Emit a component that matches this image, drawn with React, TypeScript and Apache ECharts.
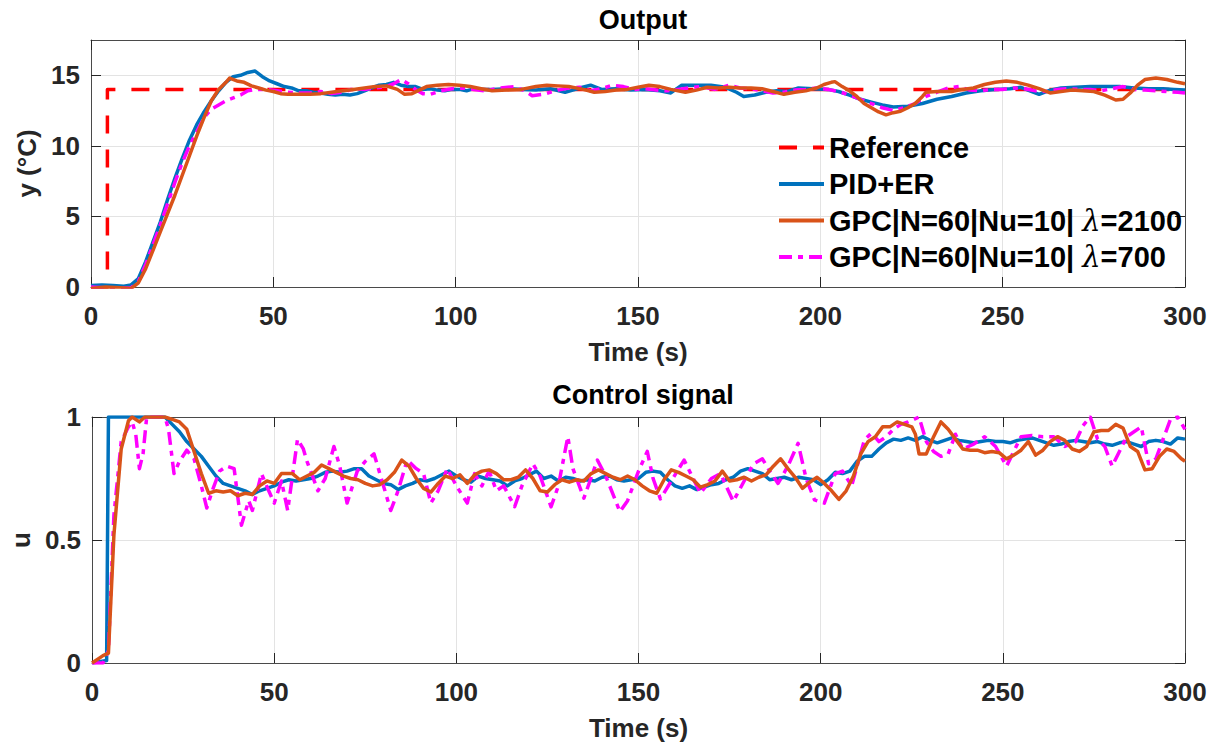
import React, { useEffect, useRef } from "react";
import * as echarts from "echarts";

// ---------- data (time [s], value) ----------
const NAMES = ["Reference", "PID+ER", "GPC|N=60|Nu=10| λ=2100", "GPC|N=60|Nu=10| λ=700"];
const COLORS = ["#FF0000", "#0072BD", "#D95319", "#FF00FF"];

const refOut = [[0, 0], [4.5, 0], [4.5, 14], [300, 14]];

const pidOut = [
  [0, 0.1], [3, 0.15], [6, 0.1], [9, 0.05], [11, 0.15], [13, 0.6], [15, 1.8], [17, 3.2], [19, 4.6], [21, 6.2],
  [23, 7.7], [25, 9.1], [27, 10.4], [29, 11.5], [31, 12.4], [33, 13.2], [35, 13.9], [37, 14.5], [39, 14.9], [41, 15.0],
  [43, 15.2], [45, 15.3], [47, 14.9], [49, 14.6], [51, 14.4], [53, 14.2], [55, 14.1], [57, 13.9], [59, 13.9], [61, 13.8],
  [63, 13.75], [65, 13.65], [67, 13.6], [69, 13.65], [71, 13.6], [73, 13.7], [75, 13.9], [77, 14.1], [79, 14.3], [81, 14.35],
  [83, 14.5], [85, 14.3], [87, 14.2], [89, 14.2], [91, 14.0], [93, 14.05], [95, 13.95], [97, 13.9], [99, 14.0], [101, 14.0],
  [103, 13.9], [105, 14.05], [107, 14.0], [110, 14.0], [114, 14.05], [118, 14.0], [122, 13.95], [126, 14.05], [130, 13.8], [134, 14.1],
  [137, 14.3], [140, 14.0], [144, 14.05], [148, 13.95], [152, 14.0], [156, 13.9], [159, 13.75], [162, 14.3], [166, 14.3], [170, 14.3],
  [174, 14.15], [177, 13.8], [179, 13.5], [182, 13.6], [185, 13.8], [188, 13.9], [191, 13.85], [194, 14.1], [198, 14.05], [202, 14.0],
  [205, 13.85], [208, 13.6], [211, 13.3], [214, 13.1], [217, 12.9], [220, 12.75], [224, 12.8], [228, 13.0], [232, 13.3], [236, 13.5],
  [240, 13.75], [244, 13.9], [248, 14.0], [252, 14.05], [255, 14.15], [258, 13.85], [260, 13.65], [263, 13.95], [266, 14.1], [270, 14.15],
  [274, 14.2], [278, 14.2], [282, 14.2], [286, 14.1], [290, 14.05], [294, 14.05], [297, 14.0], [300, 13.95],
];

const gpc2100Out = [
  [0, -0.1], [4, 0.0], [8, -0.05], [11, -0.1], [13, 0.3], [15, 1.3], [17, 2.6], [19, 3.9], [21, 5.2], [23, 6.5],
  [25, 7.9], [27, 9.3], [29, 10.7], [31, 12.0], [33, 13.2], [35, 14.0], [37, 14.5], [38, 14.8], [40, 14.6], [42, 14.5],
  [44, 14.25], [46, 14.1], [48, 13.95], [50, 13.85], [52, 13.7], [54, 13.65], [57, 13.65], [60, 13.65], [63, 13.7], [66, 13.8],
  [69, 13.9], [72, 14.0], [75, 14.1], [78, 14.2], [81, 14.25], [84, 14.0], [86, 13.65], [88, 13.7], [90, 13.95], [92, 14.2],
  [95, 14.3], [98, 14.35], [101, 14.3], [104, 14.2], [107, 14.05], [110, 13.9], [114, 13.95], [118, 14.0], [122, 14.2], [125, 14.3],
  [128, 14.25], [131, 14.2], [135, 14.0], [138, 13.8], [141, 13.85], [144, 13.95], [147, 14.0], [150, 14.15], [153, 14.3], [156, 14.2],
  [159, 14.0], [163, 13.8], [166, 13.95], [169, 14.15], [172, 14.1], [175, 14.15], [178, 14.1], [181, 14.1], [184, 14.05], [187, 13.85],
  [190, 13.65], [193, 13.8], [196, 13.9], [199, 14.1], [201, 14.35], [203, 14.5], [204, 14.55], [206, 14.2], [208, 13.9], [210, 13.5],
  [212, 13.0], [214, 12.7], [216, 12.4], [218, 12.2], [220, 12.35], [222, 12.45], [224, 12.7], [226, 13.0], [228, 13.5], [229, 13.8],
  [232, 13.85], [236, 13.85], [239, 14.0], [242, 14.1], [245, 14.35], [248, 14.5], [251, 14.6], [254, 14.5], [257, 14.3], [260, 14.05],
  [263, 13.75], [266, 13.85], [269, 13.95], [272, 13.9], [275, 13.85], [278, 13.6], [281, 13.25], [283, 13.3], [285, 13.75], [287, 14.3],
  [289, 14.7], [292, 14.8], [295, 14.7], [298, 14.5], [300, 14.4],
];

const gpc700Out = [
  [0, 0.0], [4, -0.05], [8, -0.1], [11, -0.05], [13, 0.4], [15, 1.6], [17, 3.0], [19, 4.4], [21, 5.9], [23, 7.4],
  [25, 8.8], [27, 10.0], [29, 11.0], [31, 12.0], [33, 12.6], [35, 12.9], [37, 13.2], [39, 13.4], [41, 13.6], [43, 13.9],
  [45, 14.0], [48, 14.0], [51, 13.9], [54, 13.8], [57, 13.75], [60, 13.75], [63, 13.85], [66, 13.7], [69, 13.8], [72, 14.05],
  [75, 14.0], [78, 14.1], [81, 14.2], [83, 14.4], [85, 14.7], [87, 14.4], [89, 14.0], [91, 13.7], [93, 13.65], [96, 13.9],
  [99, 14.05], [102, 14.1], [105, 14.0], [108, 13.9], [112, 14.1], [116, 14.2], [119, 13.9], [121, 13.55], [124, 13.65], [128, 13.95],
  [131, 14.1], [134, 14.15], [137, 13.9], [140, 14.05], [143, 14.3], [146, 14.2], [149, 14.0], [152, 14.05], [155, 13.95], [158, 13.9],
  [161, 14.0], [164, 14.1], [167, 14.2], [171, 14.0], [175, 14.3], [178, 14.1], [181, 14.05], [184, 13.9], [187, 13.75], [190, 13.8],
  [193, 13.95], [196, 14.0], [199, 14.1], [202, 14.0], [205, 13.85], [208, 13.6], [211, 13.3], [214, 13.0], [217, 12.7], [220, 12.5],
  [223, 12.7], [226, 13.0], [229, 13.5], [232, 13.8], [235, 14.1], [238, 14.2], [241, 13.95], [244, 13.9], [247, 14.0], [250, 14.0],
  [253, 14.1], [256, 14.05], [259, 13.9], [262, 13.85], [265, 14.0], [268, 14.05], [271, 14.0], [274, 14.0], [277, 13.9], [280, 14.05],
  [283, 14.2], [286, 14.0], [289, 13.95], [292, 13.9], [295, 13.85], [298, 13.8], [300, 13.75],
];

const pidU = [
  [0, 0.0], [2, 0.005], [4, 0.01], [4.5, 1.0], [20, 1.0], [22, 0.97], [24, 0.94], [26, 0.9], [28, 0.87], [30, 0.84],
  [32, 0.8], [34, 0.76], [36, 0.73], [38, 0.72], [40, 0.71], [42, 0.7], [44, 0.685], [46, 0.7], [48, 0.71], [50, 0.72],
  [52, 0.735], [54, 0.745], [56, 0.74], [58, 0.745], [60, 0.75], [62, 0.76], [64, 0.775], [66, 0.78], [68, 0.775], [70, 0.78],
  [72, 0.79], [74, 0.79], [76, 0.76], [78, 0.745], [80, 0.73], [82, 0.725], [84, 0.705], [86, 0.72], [88, 0.73], [90, 0.745],
  [92, 0.74], [94, 0.75], [96, 0.765], [98, 0.78], [100, 0.76], [102, 0.745], [104, 0.735], [106, 0.76], [108, 0.75], [110, 0.745],
  [112, 0.74], [114, 0.72], [116, 0.74], [118, 0.75], [120, 0.765], [122, 0.78], [124, 0.75], [126, 0.76], [128, 0.74], [130, 0.755],
  [132, 0.75], [134, 0.74], [136, 0.745], [138, 0.74], [140, 0.755], [142, 0.76], [144, 0.745], [146, 0.74], [148, 0.745], [150, 0.75],
  [152, 0.775], [154, 0.78], [156, 0.775], [158, 0.745], [160, 0.72], [162, 0.71], [164, 0.72], [166, 0.705], [168, 0.715], [170, 0.725],
  [172, 0.73], [174, 0.745], [176, 0.755], [178, 0.78], [180, 0.79], [182, 0.78], [184, 0.77], [186, 0.745], [188, 0.75], [190, 0.755],
  [192, 0.745], [194, 0.755], [196, 0.75], [198, 0.745], [200, 0.725], [202, 0.745], [204, 0.775], [206, 0.77], [208, 0.78], [210, 0.82],
  [212, 0.84], [214, 0.84], [216, 0.87], [218, 0.895], [220, 0.91], [222, 0.905], [224, 0.915], [226, 0.905], [228, 0.92], [230, 0.905],
  [232, 0.895], [234, 0.905], [236, 0.915], [238, 0.905], [240, 0.9], [242, 0.895], [244, 0.9], [246, 0.905], [248, 0.9], [250, 0.9],
  [252, 0.895], [254, 0.905], [256, 0.91], [258, 0.915], [260, 0.905], [262, 0.895], [264, 0.885], [266, 0.89], [268, 0.9], [270, 0.905],
  [272, 0.9], [274, 0.895], [276, 0.9], [278, 0.89], [280, 0.885], [282, 0.895], [284, 0.9], [286, 0.89], [288, 0.88], [290, 0.9],
  [292, 0.905], [294, 0.9], [296, 0.89], [298, 0.915], [300, 0.91],
];

const gpc2100U = [
  [0, 0.0], [2, 0.02], [3, 0.03], [4.5, 0.04], [6, 0.52], [8, 0.87], [10, 0.985], [11, 1.0], [13, 0.98], [14.5, 1.0],
  [20, 1.0], [22, 0.99], [24, 0.98], [26, 0.95], [28, 0.86], [30, 0.77], [32, 0.69], [34, 0.7], [36, 0.695], [38, 0.7],
  [40, 0.68], [42, 0.69], [44, 0.685], [46, 0.72], [48, 0.74], [50, 0.73], [52, 0.77], [55, 0.77], [57, 0.745], [59, 0.76],
  [61, 0.775], [63, 0.805], [65, 0.79], [67, 0.775], [69, 0.76], [71, 0.75], [73, 0.745], [75, 0.73], [77, 0.72], [79, 0.725],
  [81, 0.745], [83, 0.775], [85, 0.825], [87, 0.8], [89, 0.75], [91, 0.71], [93, 0.695], [95, 0.73], [97, 0.76], [99, 0.75],
  [101, 0.765], [103, 0.73], [105, 0.765], [107, 0.78], [109, 0.785], [111, 0.77], [113, 0.745], [115, 0.745], [117, 0.755], [119, 0.785],
  [121, 0.75], [123, 0.7], [125, 0.695], [127, 0.725], [129, 0.745], [131, 0.735], [133, 0.745], [135, 0.74], [137, 0.77], [139, 0.785],
  [141, 0.77], [143, 0.755], [145, 0.745], [147, 0.76], [149, 0.745], [151, 0.72], [153, 0.7], [155, 0.69], [157, 0.745], [159, 0.785],
  [161, 0.775], [163, 0.76], [165, 0.745], [167, 0.715], [169, 0.725], [171, 0.74], [173, 0.78], [175, 0.74], [177, 0.745], [179, 0.755],
  [181, 0.74], [183, 0.755], [185, 0.765], [187, 0.8], [189, 0.83], [191, 0.79], [193, 0.755], [195, 0.71], [197, 0.735], [199, 0.755],
  [201, 0.73], [203, 0.7], [205, 0.665], [207, 0.7], [209, 0.76], [211, 0.85], [213, 0.9], [215, 0.92], [217, 0.96], [219, 0.96],
  [221, 0.98], [223, 0.97], [225, 0.96], [226, 0.93], [227, 0.85], [229, 0.85], [231, 0.92], [233, 0.98], [235, 0.95], [237, 0.91],
  [239, 0.87], [241, 0.865], [243, 0.865], [245, 0.855], [247, 0.86], [249, 0.855], [251, 0.83], [253, 0.845], [255, 0.865], [257, 0.9],
  [259, 0.845], [261, 0.865], [263, 0.9], [265, 0.92], [267, 0.905], [269, 0.87], [271, 0.86], [273, 0.88], [275, 0.94], [277, 0.945],
  [279, 0.945], [281, 0.97], [283, 0.955], [285, 0.88], [287, 0.86], [289, 0.785], [291, 0.79], [293, 0.84], [295, 0.87], [297, 0.86],
  [299, 0.83], [300, 0.82],
];

const gpc700U = [
  [0, 0.0], [3, 0.0], [4.5, 0.05], [6, 0.6], [8, 0.9], [10, 0.96], [11, 0.98], [12, 0.93], [13, 0.79], [14, 0.85],
  [15, 1.0], [20, 1.0], [21, 0.95], [22.5, 0.77], [24, 0.82], [26, 0.865], [28, 0.83], [30, 0.72], [31.5, 0.63], [33, 0.7],
  [35, 0.78], [37, 0.8], [39, 0.79], [41, 0.56], [43, 0.66], [44, 0.62], [46.5, 0.77], [48.5, 0.7], [50, 0.65], [52, 0.74],
  [53.7, 0.62], [56.4, 0.91], [58, 0.87], [59, 0.82], [62, 0.7], [64, 0.75], [66.4, 0.88], [68, 0.8], [70, 0.65], [72.8, 0.78],
  [75, 0.82], [77.4, 0.85], [80, 0.72], [82, 0.62], [84, 0.7], [86.5, 0.825], [89, 0.79], [91, 0.77], [93, 0.65], [95, 0.7],
  [97.5, 0.79], [100, 0.72], [103, 0.65], [105, 0.77], [107, 0.72], [109, 0.78], [111, 0.7], [113, 0.72], [116, 0.635], [118, 0.72],
  [121, 0.81], [123, 0.76], [126, 0.635], [128, 0.72], [130.6, 0.92], [132, 0.79], [135, 0.67], [138.7, 0.825], [141, 0.76], [144.9, 0.615],
  [147, 0.66], [150, 0.78], [152.4, 0.86], [154, 0.75], [156, 0.667], [159, 0.74], [162.5, 0.825], [165, 0.75], [167, 0.69], [170, 0.75],
  [172.5, 0.77], [176, 0.657], [179, 0.74], [181.6, 0.81], [184, 0.83], [186, 0.78], [188.3, 0.73], [191, 0.8], [193.8, 0.893], [196, 0.75],
  [198.3, 0.663], [201, 0.65], [204, 0.77], [206, 0.78], [208.5, 0.72], [210, 0.8], [212, 0.907], [214, 0.935], [216, 0.9], [218, 0.92],
  [220, 0.95], [222, 0.97], [224, 0.98], [227, 1.0], [229, 0.9], [231, 0.86], [233, 0.84], [235, 0.85], [237, 0.93], [239, 0.87],
  [242, 0.89], [245, 0.92], [248, 0.88], [251, 0.8], [253, 0.86], [255, 0.92], [258, 0.925], [261, 0.92], [264, 0.92], [267, 0.88],
  [270, 0.9], [272, 0.965], [274, 1.0], [276, 0.91], [278, 0.88], [280, 0.8], [282, 0.86], [284, 0.92], [286, 0.94], [288, 0.96],
  [290, 0.81], [292, 0.83], [294, 0.91], [296, 0.99], [298, 1.0], [300, 0.95],
];

// ---------- styling ----------
const FONT = "'Liberation Sans', Arial, Helvetica, sans-serif";
const AXIS_COLOR = "#262626";
const GRID_COLOR = "#e3e3e3";
const DASH = [18, 16];
const DASH_DOT = [13, 6, 5, 6];

function makeXAxes(gridIndex: number) {
  const common = {
    type: "value",
    gridIndex,
    min: 0,
    max: 300,
    interval: 50,
    axisLine: { show: true, onZero: false, lineStyle: { color: "#4a4a4a", width: 1 } },
    axisTick: { show: true, inside: true, length: 10, lineStyle: { color: AXIS_COLOR, width: 1 } },
  };
  return [
    {
      ...common,
      position: "bottom",
      name: "Time (s)",
      nameLocation: "middle",
      nameGap: 52,
      nameTextStyle: { fontFamily: FONT, fontWeight: "bold", fontSize: 26, color: AXIS_COLOR },
      axisLabel: { fontFamily: FONT, fontWeight: "bold", fontSize: 26, color: AXIS_COLOR, margin: 16 },
      splitLine: { show: true, lineStyle: { color: GRID_COLOR, width: 1 } },
    },
    {
      ...common,
      position: "top",
      axisLabel: { show: false },
      splitLine: { show: false },
    },
  ];
}

function makeYAxes(gridIndex: number, min: number, max: number, interval: number, name: string, nameGap: number) {
  const common = {
    type: "value",
    gridIndex,
    min,
    max,
    interval,
    axisLine: { show: true, onZero: false, lineStyle: { color: "#4a4a4a", width: 1 } },
    axisTick: { show: true, inside: true, length: 10, lineStyle: { color: AXIS_COLOR, width: 1 } },
  };
  return [
    {
      ...common,
      position: "left",
      name,
      nameLocation: "middle",
      nameGap,
      nameTextStyle: { fontFamily: FONT, fontWeight: "bold", fontSize: 26, color: AXIS_COLOR },
      axisLabel: {
        fontFamily: FONT, fontWeight: "bold", fontSize: 26, color: AXIS_COLOR, margin: 11,
        showMaxLabel: max % interval === 0,
      },
      splitLine: { show: true, lineStyle: { color: GRID_COLOR, width: 1 } },
    },
    {
      ...common,
      position: "right",
      axisLabel: { show: false },
      splitLine: { show: false },
    },
  ];
}

function lineSeries(name: string, data: number[][], color: string, axis: number, type: any, width = 3.5) {
  return {
    type: "line",
    name,
    data,
    xAxisIndex: axis,
    yAxisIndex: axis,
    showSymbol: false,
    symbol: "none",
    color,
    lineStyle: { color, width, type, cap: "butt", join: "round" },
    animation: false,
    silent: true,
  };
}

export default function App() {
  const ref = useRef<HTMLDivElement>(null);

  useEffect(() => {
    if (!ref.current) return;
    const chart = echarts.init(ref.current, undefined, { renderer: "svg" });
    const option: any = {
      animation: false,
      backgroundColor: "#ffffff",
      title: [
        {
          text: "Output", left: 638, top: 1, textAlign: "center",
          textStyle: { fontFamily: FONT, fontWeight: "bold", fontSize: 27, color: "#000" },
        },
        {
          text: "Control signal", left: 638, top: 376, textAlign: "center",
          textStyle: { fontFamily: FONT, fontWeight: "bold", fontSize: 27, color: "#000" },
        },
      ],
      legend: {
        data: NAMES,
        orient: "vertical",
        left: 777,
        top: 133,
        padding: 0,
        itemWidth: 45,
        itemHeight: 14,
        itemGap: 7.5,
        selectedMode: false,
        itemStyle: { opacity: 0 },
        lineStyle: { width: 4 },
        formatter: (name: string) => name.replace("λ", "{l|λ}"),
        textStyle: {
          fontFamily: FONT, fontWeight: "bold", fontSize: 29, color: "#000", lineHeight: 29,
          rich: {
            l: { fontFamily: "'DejaVu Serif', serif", fontStyle: "italic", fontWeight: "normal", fontSize: 29, color: "#000", lineHeight: 29 },
          },
        },
      },
      grid: [
        { left: 91, top: 40, width: 1094, height: 247, show: false },
        { left: 91, top: 417, width: 1094, height: 246, show: false },
      ],
      xAxis: [...makeXAxes(0), ...makeXAxes(1)],
      yAxis: [
        ...makeYAxes(0, 0, 17.5, 5, "y (°C)", 46),
        ...makeYAxes(1, 0, 1, 0.5, "u", 46),
      ],
      series: [
        lineSeries(NAMES[0], refOut, COLORS[0], 0, DASH, 3.5),
        lineSeries(NAMES[1], pidOut, COLORS[1], 0, "solid"),
        lineSeries(NAMES[3], gpc700Out, COLORS[3], 0, DASH_DOT),
        lineSeries(NAMES[2], gpc2100Out, COLORS[2], 0, "solid"),
        lineSeries(NAMES[1], pidU, COLORS[1], 2, "solid"),
        lineSeries(NAMES[3], gpc700U, COLORS[3], 2, DASH_DOT),
        lineSeries(NAMES[2], gpc2100U, COLORS[2], 2, "solid"),
      ],
    };
    chart.setOption(option);
    return () => chart.dispose();
  }, []);

  return (
    <div
      ref={ref}
      style={{ position: "fixed", left: 0, top: 0, width: 1222, height: 748, background: "#fff" }}
    />
  );
}
